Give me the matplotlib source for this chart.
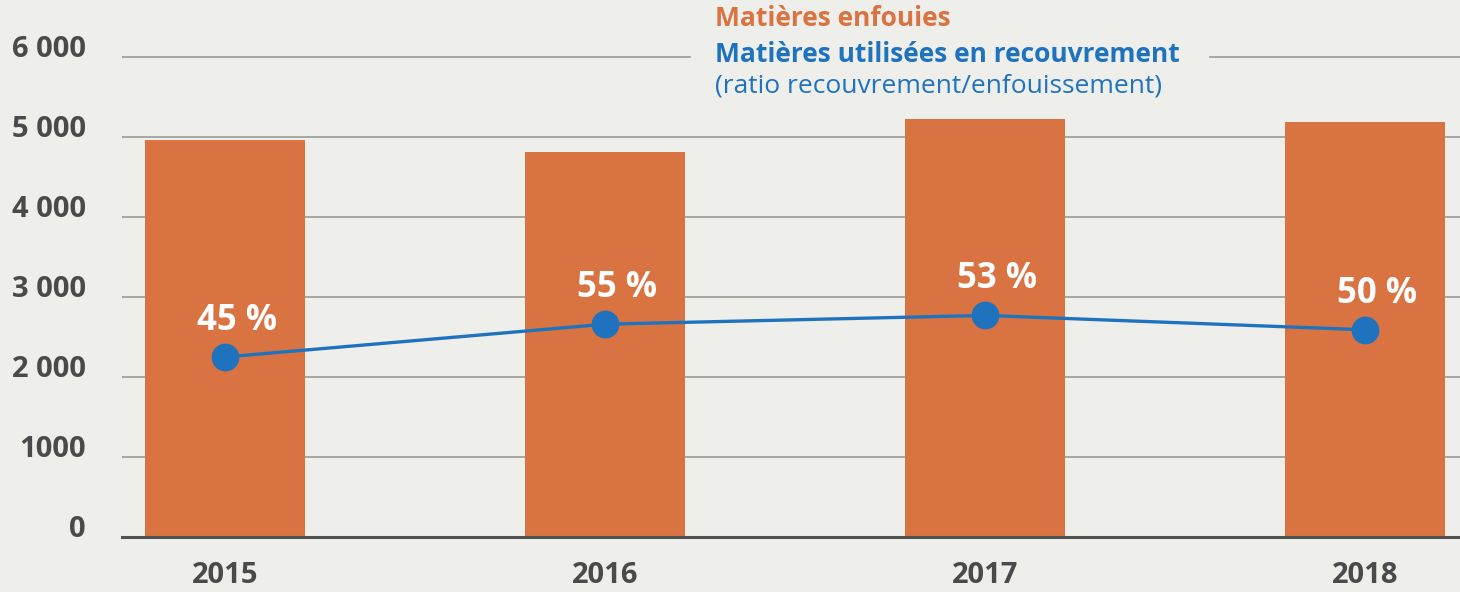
"""Matières enfouies vs matières utilisées en recouvrement, 2015-2018."""

import matplotlib
matplotlib.use('Agg')
import matplotlib.pyplot as plt

plt.rcParams['font.family'] = ['Open Sans', 'DejaVu Sans']

########
# Data #
########
years = ['2015', '2016', '2017', '2018']
enfouies = [4960, 4810, 5220, 5190]          # orange bars
recouvrement = [2250, 2660, 2770, 2590]     # blue line
ratio_labels = ['45 %', '55 %', '53 %', '50 %']
ytick_vals = [0, 1000, 2000, 3000, 4000, 5000, 6000]
ytick_labels = ['0', '1000', '2 000', '3 000', '4 000', '5 000', '6 000']

BG = '#eeeeea'
ORANGE = '#d97341'
BLUE = '#1f73be'
TEXT = '#4a4a4a'
GRID = '#9a9a98'

########
# Plot #
########
fig = plt.figure(figsize=(14.6, 5.92), dpi=100, facecolor=BG)
ax = fig.add_axes([122 / 1460, 55 / 592, 1338 / 1460, 488 / 592])
ax.set_facecolor(BG)

x = list(range(len(years)))
ax.bar(x, enfouies, width=0.421, color=ORANGE, zorder=2)
ax.plot(x, recouvrement, color=BLUE, lw=2.4, marker='o', ms=19, zorder=3)

for xi, yi, lab in zip(x, recouvrement, ratio_labels):
    ax.annotate(lab, (xi, yi), xytext=(9, 26), textcoords='offset points',
                ha='center', va='center', color='white', fontsize=25,
                fontweight='bold', zorder=4)

# Gridlines; the top one is broken by the legend text
for v in ytick_vals[1:-1]:
    ax.axhline(v, color=GRID, lw=1.2, zorder=1)
ax.axhline(ytick_vals[-1], xmin=0, xmax=0.4245, color=GRID, lw=1.2, zorder=1)
ax.axhline(ytick_vals[-1], xmin=0.8132, xmax=1, color=GRID, lw=1.2, zorder=1)

ax.set_xlim(-0.271, 3.25)
ax.set_ylim(0, 6100)
ax.set_yticks(ytick_vals)
ax.set_yticklabels(ytick_labels)
ax.set_xticks(x)
ax.set_xticklabels(years)
ax.tick_params(axis='y', length=0, pad=26, labelsize=21, labelcolor=TEXT)
ax.tick_params(axis='x', length=0, pad=17, labelsize=21, labelcolor=TEXT)
for t in ax.get_xticklabels() + ax.get_yticklabels():
    t.set_fontweight('bold')
for t in ax.get_yticklabels():
    t.set_verticalalignment('baseline')

for s in ['top', 'right', 'left']:
    ax.spines[s].set_visible(False)
ax.spines['bottom'].set_color('#505050')
ax.spines['bottom'].set_linewidth(2.2)
ax.spines['bottom'].set_zorder(5)

# Legend text at the top
fig.text(715 / 1460, 1 - 18 / 592, 'Matières enfouies', color=ORANGE,
         fontsize=19, fontweight='bold', ha='left', va='center')
fig.text(715 / 1460, 1 - 54 / 592, 'Matières utilisées en recouvrement', color=BLUE,
         fontsize=19, fontweight='bold', ha='left', va='center')
fig.text(715 / 1460, 1 - 86 / 592, '(ratio recouvrement/enfouissement)', color=BLUE,
         fontsize=19, ha='left', va='center')

fig.savefig('out.png', dpi=100, facecolor=BG)
